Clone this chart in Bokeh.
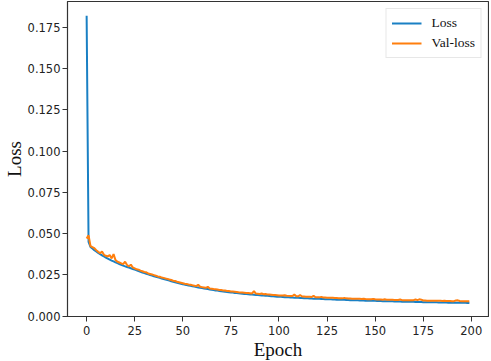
from bokeh.plotting import figure
from bokeh.models import Range1d, FixedTicker, NumeralTickFormatter, Legend, LegendItem
from bokeh.embed import file_html
from bokeh.resources import INLINE

epochs = list(range(200))

loss = [
    0.1820, 0.0450, 0.0420, 0.0410, 0.0400, 0.0392, 0.0383, 0.0376, 0.0369, 0.0362,
    0.0355, 0.0349, 0.0343, 0.0337, 0.0332, 0.0326, 0.0321, 0.0316, 0.0311, 0.0306,
    0.0302, 0.0298, 0.0294, 0.0290, 0.0286, 0.0282, 0.0278, 0.0273, 0.0269, 0.0265,
    0.0261, 0.0257, 0.0253, 0.0249, 0.0246, 0.0242, 0.0239, 0.0235, 0.0232, 0.0228,
    0.0225, 0.0222, 0.0219, 0.0216, 0.0212, 0.0209, 0.0206, 0.0203, 0.0200, 0.0197,
    0.0194, 0.0191, 0.0189, 0.0186, 0.0184, 0.0181, 0.0179, 0.0176, 0.0174, 0.0172,
    0.0170, 0.0168, 0.0166, 0.0164, 0.0162, 0.0160, 0.0158, 0.0156, 0.0155, 0.0153,
    0.0151, 0.0150, 0.0148, 0.0147, 0.0145, 0.0144, 0.0143, 0.0141, 0.0140, 0.0139,
    0.0137, 0.0136, 0.0135, 0.0134, 0.0133, 0.0132, 0.0131, 0.0130, 0.0129, 0.0128,
    0.0127, 0.0126, 0.0125, 0.0124, 0.0123, 0.0122, 0.0121, 0.0120, 0.0119, 0.0118,
    0.0117, 0.0117, 0.0116, 0.0115, 0.0115, 0.0114, 0.0113, 0.0113, 0.0112, 0.0111,
    0.0111, 0.0110, 0.0110, 0.0109, 0.0109, 0.0108, 0.0107, 0.0107, 0.0106, 0.0106,
    0.0105, 0.0105, 0.0104, 0.0104, 0.0103, 0.0103, 0.0102, 0.0102, 0.0101, 0.0101,
    0.0100, 0.0100, 0.0099, 0.0099, 0.0099, 0.0098, 0.0098, 0.0097, 0.0097, 0.0097,
    0.0096, 0.0096, 0.0095, 0.0095, 0.0095, 0.0094, 0.0094, 0.0094, 0.0093, 0.0093,
    0.0093, 0.0092, 0.0092, 0.0092, 0.0091, 0.0091, 0.0091, 0.0090, 0.0090, 0.0090,
    0.0089, 0.0089, 0.0089, 0.0089, 0.0088, 0.0088, 0.0088, 0.0087, 0.0087, 0.0087,
    0.0087, 0.0086, 0.0086, 0.0086, 0.0086, 0.0085, 0.0085, 0.0085, 0.0085, 0.0084,
    0.0084, 0.0084, 0.0084, 0.0083, 0.0083, 0.0083, 0.0083, 0.0083, 0.0082, 0.0082,
    0.0082, 0.0082, 0.0082, 0.0081, 0.0081, 0.0081, 0.0081, 0.0081, 0.0080, 0.0080,
]

val_loss = [
    0.0470, 0.0490, 0.0425, 0.0418, 0.0412, 0.0400, 0.0390, 0.0382, 0.0392, 0.0372,
    0.0366, 0.0362, 0.0370, 0.0350, 0.0376, 0.0340, 0.0330, 0.0325, 0.0320, 0.0315,
    0.0330, 0.0310, 0.0302, 0.0312, 0.0295, 0.0290, 0.0284, 0.0282, 0.0276, 0.0272,
    0.0268, 0.0266, 0.0259, 0.0256, 0.0253, 0.0249, 0.0245, 0.0241, 0.0239, 0.0234,
    0.0232, 0.0228, 0.0226, 0.0222, 0.0219, 0.0215, 0.0213, 0.0209, 0.0206, 0.0203,
    0.0200, 0.0197, 0.0195, 0.0192, 0.0190, 0.0187, 0.0185, 0.0182, 0.0190, 0.0178,
    0.0176, 0.0174, 0.0172, 0.0178, 0.0168, 0.0166, 0.0164, 0.0163, 0.0161, 0.0159,
    0.0158, 0.0156, 0.0155, 0.0153, 0.0152, 0.0150, 0.0149, 0.0148, 0.0147, 0.0145,
    0.0144, 0.0143, 0.0142, 0.0141, 0.0140, 0.0139, 0.0138, 0.0152, 0.0137, 0.0136,
    0.0135, 0.0137, 0.0133, 0.0134, 0.0132, 0.0131, 0.0130, 0.0129, 0.0128, 0.0127,
    0.0126, 0.0126, 0.0125, 0.0127, 0.0124, 0.0123, 0.0122, 0.0122, 0.0131, 0.0121,
    0.0120, 0.0128, 0.0119, 0.0119, 0.0118, 0.0118, 0.0117, 0.0116, 0.0124, 0.0115,
    0.0115, 0.0114, 0.0117, 0.0113, 0.0113, 0.0112, 0.0112, 0.0111, 0.0111, 0.0110,
    0.0110, 0.0109, 0.0109, 0.0108, 0.0111, 0.0108, 0.0107, 0.0107, 0.0106, 0.0106,
    0.0106, 0.0105, 0.0105, 0.0104, 0.0106, 0.0104, 0.0103, 0.0103, 0.0102, 0.0105,
    0.0102, 0.0101, 0.0101, 0.0101, 0.0100, 0.0102, 0.0100, 0.0099, 0.0099, 0.0099,
    0.0098, 0.0098, 0.0098, 0.0101, 0.0097, 0.0097, 0.0097, 0.0096, 0.0096, 0.0096,
    0.0097, 0.0101, 0.0097, 0.0102, 0.0100, 0.0095, 0.0095, 0.0094, 0.0094, 0.0094,
    0.0094, 0.0093, 0.0093, 0.0093, 0.0093, 0.0092, 0.0094, 0.0092, 0.0092, 0.0092,
    0.0091, 0.0091, 0.0095, 0.0096, 0.0092, 0.0091, 0.0091, 0.0090, 0.0090, 0.0091,
]

x_ticks = [0, 25, 50, 75, 100, 125, 150, 175, 200]
y_ticks = [0.0, 0.025, 0.05, 0.075, 0.1, 0.125, 0.15, 0.175]

p = figure(
    width=475, height=345,
    output_backend="svg", toolbar_location=None,
    x_range=Range1d(-9.95, 208.95), y_range=Range1d(-0.0002, 0.1907),
    min_border_left=50, min_border_right=1, min_border_top=1, min_border_bottom=0,
)
p.frame_width = 421
p.frame_height = 315

p.xgrid.visible = False
p.ygrid.visible = False
p.outline_line_color = "#333333"
p.outline_line_width = 1.2
p.background_fill_color = "white"
p.border_fill_color = "white"

r1 = p.line(epochs, loss, line_color="#1a80c4", line_width=2)
r2 = p.line(epochs, val_loss, line_color="#ff7f0e", line_width=2)

for ax in (p.xaxis[0], p.yaxis[0]):
    ax.axis_line_color = "#333333"
    ax.major_tick_line_color = "#333333"
    ax.major_tick_in = 0
    ax.major_tick_out = 5
    ax.minor_tick_line_color = None
    ax.major_label_text_font = "DejaVu Sans"
    ax.major_label_text_font_size = "11.5px"
    ax.major_label_text_color = "#222222"
    ax.axis_label_text_font = "Liberation Serif"
    ax.axis_label_text_font_size = "19px"
    ax.axis_label_text_font_style = "normal"
    ax.axis_label_text_color = "#111111"

p.xaxis.ticker = FixedTicker(ticks=x_ticks)
p.yaxis.ticker = FixedTicker(ticks=y_ticks)
p.yaxis.formatter = NumeralTickFormatter(format="0.000")
p.xaxis.axis_label = "Epoch"
p.yaxis.axis_label = "Loss"
p.xaxis.major_label_standoff = 4
p.yaxis.major_label_standoff = 2
p.xaxis.axis_label_standoff = 1
p.yaxis.axis_label_standoff = 0

legend = Legend(
    items=[LegendItem(label="Loss", renderers=[r1]),
           LegendItem(label="Val-loss", renderers=[r2])],
    location="top_right",
    label_text_font="Liberation Serif",
    label_text_font_size="13.5px",
    label_text_color="#111111",
    glyph_width=30, glyph_height=18,
    label_standoff=10, spacing=2, padding=5, margin=7,
    border_line_color="#d0d0d0", border_line_width=1,
    background_fill_alpha=0.9,
)
p.add_layout(legend)

open("out.html", "w").write(file_html(p, INLINE))
